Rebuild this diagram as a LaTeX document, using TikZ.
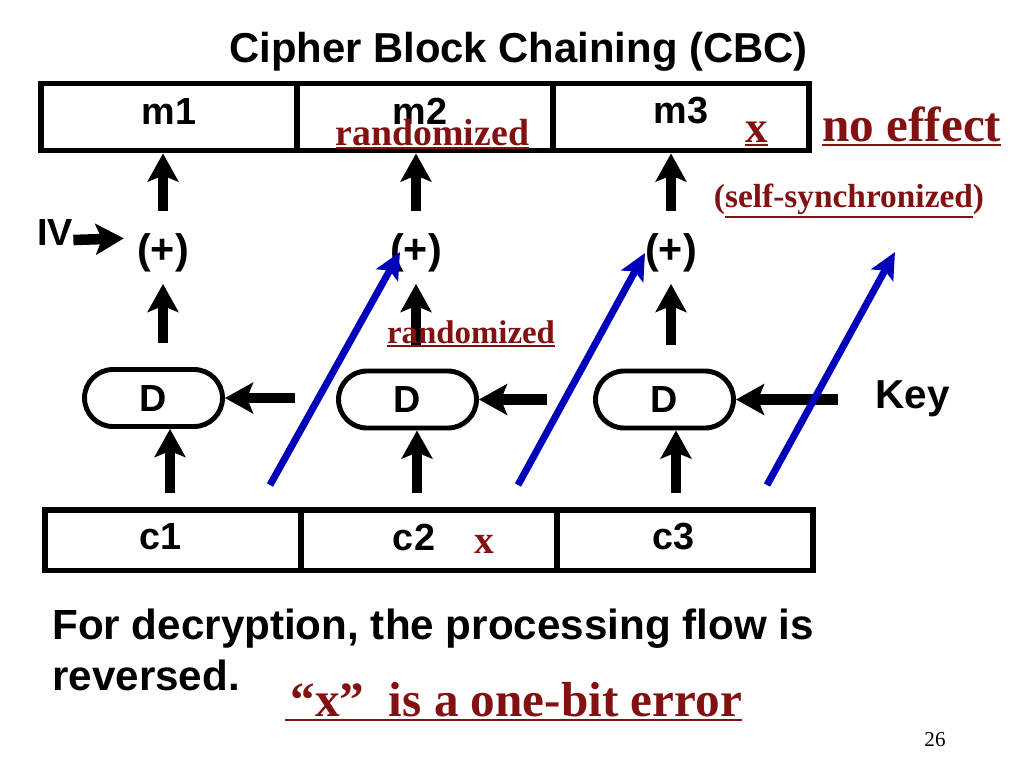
\documentclass[tikz,border=0pt]{standalone}
\usepackage{fontspec}
\setmainfont{Liberation Serif}
\setsansfont{Liberation Sans}
\usetikzlibrary{arrows.meta,shapes.misc}

\definecolor{errred}{RGB}{130,18,18}
\definecolor{flipblue}{RGB}{0,0,185}

% underline with a heavier rule
\newcommand{\undl}[1]{\vtop{\hbox{#1}\kern1.2pt\hrule height 1.1pt}}

\tikzset{
  cell/.style={draw, line width=3.4pt, minimum width=5.12cm, inner sep=0pt},
  lab/.style={font=\sffamily\bfseries\fontsize{21.5}{24}\selectfont, inner sep=0pt},
  plus/.style={font=\sffamily\bfseries\fontsize{23.5}{26}\selectfont, inner sep=0pt},
  dec/.style={rounded rectangle, draw, line width=2.8pt, minimum width=2.76cm,
              minimum height=1.14cm, inner sep=0pt,
              font=\sffamily\bfseries\fontsize{21.5}{24}\selectfont},
  fat/.style={line width=6pt, -{Stealth[length=16pt, width=17.5pt, inset=3.5pt]}},
  flip/.style={flipblue, line width=4pt, -{Stealth[length=15pt, width=14pt, inset=3pt]}},
  err/.style={errred, font=\bfseries, inner sep=0pt},
}

\begin{document}
\begin{tikzpicture}[x=0.02cm, y=-0.02cm]
\useasboundingbox (0,0) rectangle (1024,768);

% title
\node[font=\sffamily\bfseries\fontsize{23.8}{28}\selectfont, anchor=base, inner sep=0pt] (title) at (518.5,62) {Cipher Block Chaining (CBC)};

% plaintext blocks
\node[cell, minimum height=1.34cm, label={[lab, yshift=0.12cm]center:m1}] (m1) at (169,117) {};
\node[cell, minimum height=1.34cm, label={[lab, yshift=0.12cm, xshift=-0.1cm]center:m2}] (m2) at (425,117) {};
\node[cell, minimum height=1.34cm, label={[lab, yshift=0.12cm]center:m3}] (m3) at (681,117) {};

% ciphertext blocks
\node[cell, minimum height=1.22cm, label={[lab, yshift=0.06cm, xshift=-0.25cm]center:c1}] (c1) at (172.75,540) {};
\node[cell, minimum height=1.22cm, label={[lab, yshift=0.06cm, xshift=-0.3cm]center:c2}] (c2) at (429,540) {};
\node[cell, minimum height=1.22cm, label={[lab, yshift=0.06cm, xshift=-0.23cm]center:c3}] (c3) at (685,540) {};

% xor points
\node[plus, anchor=base] (x1) at (163,263) {(+)};
\node[plus, anchor=base] (x2) at (416,263) {(+)};
\node[plus, anchor=base] (x3) at (671,263) {(+)};

% decryption boxes
\node[dec] (D1) at (153.5,398) {D};
\node[dec] (D2) at (407.5,399.5) {D};
\node[dec] (D3) at (664.5,399.5) {D};

\node[lab, anchor=base west] (iv) at (37,245) {IV};
\node[lab, font=\sffamily\bfseries\fontsize{23}{26}\selectfont, anchor=base west] (key) at (875,408) {Key};

% black flow
\draw[fat] ([yshift=-0.16cm]iv.east) -- ([yshift=0.28cm, xshift=-0.26cm]x1.west);
\draw[fat, shorten <=0.44cm] (x1.north) -- (x1.north |- m1.south);
\draw[fat, shorten <=0.44cm] (x2.north) -- (x2.north |- m2.south);
\draw[fat, shorten <=0.44cm] (x3.north) -- (x3.north |- m3.south);

\draw[fat, shorten <=0.48cm, shorten >=0.24cm] (D1.north -| x1) -- (x1.south);
\draw[fat, shorten <=0.48cm, shorten >=0.24cm] (D2.north -| x2) -- (x2.south);
\draw[fat, shorten <=0.48cm, shorten >=0.24cm] (D3.north -| x3) -- (x3.south);

\draw[fat, shorten <=0.28cm] ([xshift=0.33cm]D1.south |- c1.north) -- ([xshift=0.33cm]D1.south);
\draw[fat, shorten <=0.28cm] ([xshift=0.19cm]D2.south |- c2.north) -- ([xshift=0.19cm]D2.south);
\draw[fat, shorten <=0.28cm] ([xshift=0.23cm]D3.south |- c3.north) -- ([xshift=0.23cm]D3.south);

\draw[fat] ([xshift=1.4cm]D1.east) -- (D1.east);
\draw[fat] ([xshift=1.36cm]D2.east) -- (D2.east);
\draw[fat, shorten <=0.74cm] (D3.east -| key.west) -- (D3.east);

% bit flip propagation
\coordinate (b1s) at (270,485); \coordinate (b1e) at (400,252);
\coordinate (b2s) at (518,485); \coordinate (b2e) at (645,253);
\coordinate (b3s) at (767,485); \coordinate (b3e) at (895,252);
\draw[flip] (b1s) -- (b1e);
\draw[flip] (b2s) -- (b2e);
\draw[flip] (b3s) -- (b3e);

% error notes
\node[err, font=\bfseries\fontsize{21.5}{24}\selectfont, anchor=base] (rnd1) at (432.5,145) {\undl{randomized}};
\node[err, font=\bfseries\fontsize{18.7}{22}\selectfont, anchor=base] (rnd2) at (471,343) {\undl{randomized}};
\node[err, font=\bfseries\fontsize{25.5}{28}\selectfont, anchor=base] (xm) at (756.5,142) {\undl{x}};
\node[err, font=\bfseries\fontsize{28}{30}\selectfont, anchor=base west] (noeff) at (822,141) {\undl{no effect}};
\node[err, font=\bfseries\fontsize{19}{22}\selectfont, anchor=base] (sync) at (849,207) {(\undl{self-synchronized})};
\node[err, font=\bfseries\fontsize{22.5}{26}\selectfont, anchor=base] (xc) at (484,553) {x};

% bottom notes
\node[lab, font=\sffamily\bfseries\fontsize{24}{28.5}\selectfont, anchor=base west, align=left] (note) at (52,690) {For decryption, the processing flow is\\reversed.};
\node[err, font=\bfseries\fontsize{28}{32}\selectfont, anchor=base west] (onebit) at (285,716) {\undl{\kern3pt“x”\ \ is a one-bit error}};
\node[font=\fontsize{12}{14}\selectfont, anchor=base, inner sep=0pt] (pg) at (935,746) {26};
\end{tikzpicture}
\end{document}
